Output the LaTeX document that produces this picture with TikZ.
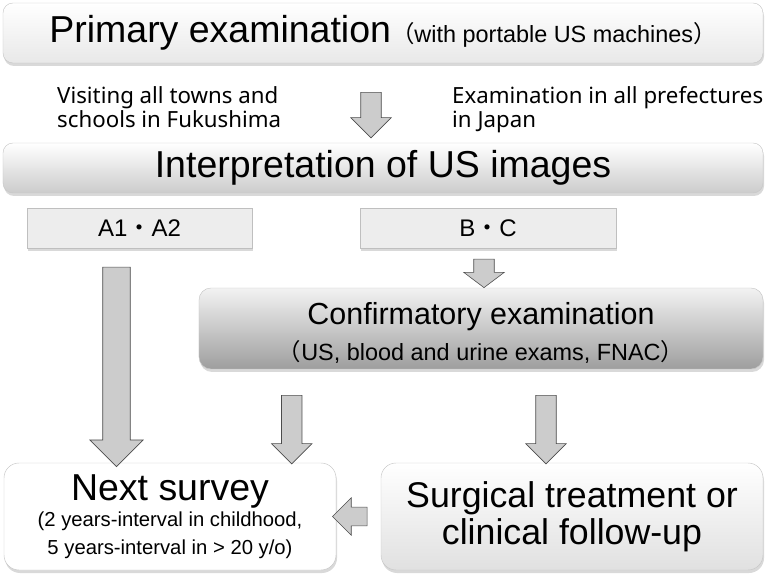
\documentclass[tikz,border=0pt]{standalone}
\usepackage{fontspec}
\setmainfont{Liberation Sans}
\newfontfamily\notefont{Noto Sans}
\newfontfamily\jpfont{Noto Sans CJK JP}
\usetikzlibrary{shapes.arrows, shadows, calc}

\tikzstyle{boxshadow} = [drop shadow={opacity=0.3, shadow xshift=0.3mm,
  shadow yshift=-0.9mm}]
\tikzstyle{stage} = [rectangle, rounded corners=3mm, inner sep=0pt,
  draw=black!22, top color=white, bottom color=black!9, boxshadow]
\tikzstyle{grade} = [rectangle, inner sep=0pt, draw=black!25,
  fill=black!7, minimum height=12mm, boxshadow,
  font=\fontsize{20.5}{24}\selectfont]
\tikzstyle{note} = [align=left, inner sep=0pt,
  font=\notefont\fontsize{19}{21}\selectfont]
\tikzstyle{fatarrow} = [single arrow, draw=black!70, fill=black!20,
  line width=0.5pt, inner xsep=0pt, inner ysep=8.5pt,
  single arrow head extend=8.5pt, single arrow tip angle=90]

% block arrow between two points
\newcommand{\bigarrow}[3][]{%
  \path let \p1=#2, \p2=#3, \n1={veclen(\x2-\x1,\y2-\y1)} in
    #2 -- #3 node[midway, sloped, allow upside down, fatarrow,
      minimum height=\n1, #1] {};}

\begin{document}
\begin{tikzpicture}[x=0.3mm, y=-0.3mm]
\useasboundingbox (0,0) rectangle (766,576);

%% nodes
\node (prim) [stage, minimum width=228mm, minimum height=18mm] at (383,33)
  {\fontsize{32}{36}\selectfont Primary examination%
   \fontsize{20}{24}\selectfont{\jpfont （}with portable US machines{\jpfont ）}};
\node (fukushima) [note, anchor=north west] at (57,86)
  {Visiting all towns and\\ schools in Fukushima};
\node (japan) [note, anchor=north west] at (452,86)
  {Examination in all prefectures\\ in Japan};
\node (interp) [stage, minimum width=228mm, minimum height=15mm,
  bottom color=black!20, font=\fontsize{32}{36}\selectfont] at (383,168)
  {Interpretation of US images};
\node (a12) [grade, minimum width=67.5mm] at (139.5,228) {A1{\jpfont ・}A2};
\node (bc) [grade, minimum width=76.8mm] at (488,228) {B{\jpfont ・}C};
\node (conf) [stage, rounded corners=3.6mm, minimum width=169.2mm,
  minimum height=24.3mm, top color=black!5, bottom color=black!38,
  align=center, font=\fontsize{20}{24}\selectfont] at (481,328.5)
  {{\fontsize{26}{30}\selectfont\rule{0pt}{27pt}Confirmatory examination}\\[7pt]
   {\jpfont （}US, blood and urine exams, FNAC{\jpfont ）}};
\node (next) [stage, rounded corners=4.5mm, minimum width=99.6mm,
  minimum height=32.1mm, top color=white, bottom color=white,
  align=center, font=\fontsize{17.3}{20}\selectfont] at (170,516.5)
  {{\fontsize{32}{36}\selectfont Next survey}\\[2pt]
   (2 years-interval in childhood,\\[4pt]
   5 years-interval in {>} 20 y/o)};
\node (surg) [stage, rounded corners=4.5mm, minimum width=114.6mm,
  minimum height=32.1mm, bottom color=black!12, align=center,
  font=\fontsize{30.5}{31.6}\selectfont] at (572,516.5)
  {Surgical treatment or\\ clinical follow-up};

%% paths
\bigarrow{($(prim.south)+(-12,24)$)}{($(interp.north)+(-12,-10)$)}
\bigarrow[single arrow tip angle=106]{($(bc.south)+(-4,7)$)}
  {($(bc.south |- conf.north)+(-4,-4)$)}
\bigarrow[inner ysep=11.5pt, single arrow head extend=11pt]
  {($(a12.south)+(-23,12)$)}{($(a12.south |- next.north)+(-23,-3)$)}
\bigarrow{($(conf.south -| next.east)+(-44.5,21)$)}
  {($(next.north east)+(-44.5,-4)$)}
\bigarrow{($(conf.south -| surg.north)+(-26,21)$)}
  {($(surg.north)+(-26,-4)$)}
\bigarrow[inner ysep=7.7pt, single arrow head extend=8pt]
  {($(surg.west)+(-9,0)$)}{($(next.east)+(1,0)$)}

\end{tikzpicture}
\end{document}
